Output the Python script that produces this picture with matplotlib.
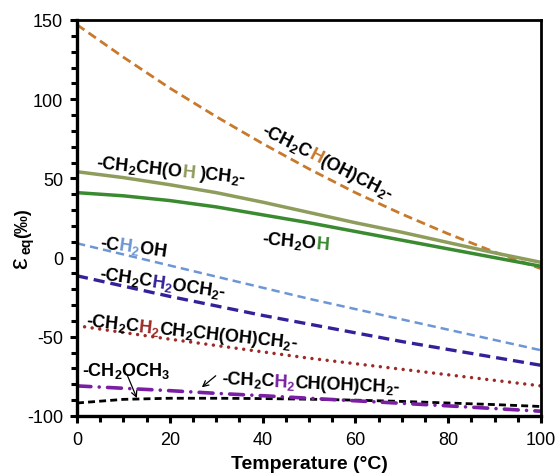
import matplotlib
matplotlib.use("Agg")
import matplotlib.pyplot as plt
import numpy as np
from matplotlib.transforms import IdentityTransform
from matplotlib.ticker import MultipleLocator

plt.rcParams["font.family"] = ["Liberation Sans", "DejaVu Sans"]
plt.rcParams["mathtext.fontset"] = "custom"
plt.rcParams["mathtext.rm"] = "Liberation Sans:bold"
plt.rcParams["mathtext.bf"] = "Liberation Sans:bold"
plt.rcParams["mathtext.it"] = "Liberation Sans:bold"
plt.rcParams["lines.scale_dashes"] = False
plt.rcParams["axes.unicode_minus"] = False

# temperature grid (deg C)
temp = [0, 10, 20, 30, 40, 50, 60, 70, 80, 90, 100]

# equilibrium fractionation (permil)
eps_ch_oh = [147, 126.5, 107, 89, 72, 56, 41, 27.5, 15, 3.5, -7]
eps_oh_glyc = [54.2, 50.5, 46, 41, 35, 28.5, 22, 16, 9.5, 3, -3]
eps_oh_meoh = [41, 39, 36, 32, 27, 22, 16.5, 11, 5.5, 0, -5.5]
eps_ch2oh = [9, 2, -5, -12, -19, -26, -32.5, -39, -45.5, -52, -58.5]
eps_ch2_ether = [-11.5, -18, -24.5, -30.5, -36.5, -42, -47.5, -53, -58, -63, -68]
eps_ch2_long = [-43, -47.3, -51.5, -55.5, -59.5, -63.5, -67, -70.5, -74, -77.5, -81]
eps_ch2_mid = [-81, -82.5, -84, -85.7, -87.2, -88.8, -90.4, -92, -93.6, -95.3, -97]
eps_ch3_ome = [-91.8, -89.5, -88.8, -88.8, -89, -89.4, -90, -90.8, -91.8, -92.8, -94]

ORANGE = "#C8792B"
OLIVE = "#8E9C5C"
GREEN = "#3A8A30"
LBLUE = "#6D96D6"
DBLUE = "#35209A"
RED = "#9C2B27"
PURPLE = "#7A1FA3"


def colored_label(ax, x, y, parts, angle=0, size=13):
    """Bold label built from (text, colour) pieces, centred on (x, y)."""
    r = ax.figure.canvas.get_renderer()

    def width(s):
        t = ax.text(0, 0, s, fontsize=size, fontweight="bold")
        w = t.get_window_extent(r).width
        t.remove()
        return w

    # right edge of each piece inside the whole string, minus its own width
    offsets = []
    for i in range(len(parts)):
        prefix = "".join(s for s, c in parts[:i + 1])
        offsets.append(width(prefix) - width(parts[i][0]))
    total = width("".join(s for s, c in parts))
    a = np.deg2rad(angle)
    dx, dy = np.cos(a), np.sin(a)
    cx, cy = ax.transData.transform((x, y))
    shift = size * 100 / 72 * 0.3
    sx = cx - total / 2 * dx + dy * shift
    sy = cy - total / 2 * dy - dx * shift
    for (s, c), off in zip(parts, offsets):
        ax.text(sx + off * dx, sy + off * dy, s, transform=IdentityTransform(),
                fontsize=size, fontweight="bold", color=c, rotation=angle,
                rotation_mode="anchor", ha="left", va="baseline", zorder=5)


W, H = 556, 477
fig = plt.figure(figsize=(W / 100, H / 100), dpi=100)
ax = fig.add_axes([0.1385, 0.1258, 0.8345, 0.8302])

ax.plot(temp, eps_ch_oh, color=ORANGE, lw=2.0, dashes=(6.5, 3.6))
ax.plot(temp, eps_oh_glyc, color=OLIVE, lw=2.5)
ax.plot(temp, eps_oh_meoh, color=GREEN, lw=2.5)
ax.plot(temp, eps_ch2oh, color=LBLUE, lw=1.8, dashes=(6, 3.6))
ax.plot(temp, eps_ch2_ether, color=DBLUE, lw=2.4, dashes=(8, 4.3))
ax.plot(temp, eps_ch2_long, color=RED, lw=2.5, dashes=(0.01, 5.5),
        dash_capstyle="round")
ax.plot(temp, eps_ch3_ome, color="black", lw=2.0, dashes=(5, 3))
ax.plot(temp, eps_ch2_mid, color=PURPLE, lw=2.6,
        dashes=(10, 6, 0.01, 6), dash_capstyle="round")

ax.set_xlim(0, 100)
ax.set_ylim(-100, 150)
ax.xaxis.set_major_locator(MultipleLocator(20))
ax.xaxis.set_minor_locator(MultipleLocator(5))
ax.yaxis.set_major_locator(MultipleLocator(50))
ax.yaxis.set_minor_locator(MultipleLocator(10))
ax.tick_params(which="major", direction="out", length=5, width=2.2,
               labelsize=13, pad=5)
ax.tick_params(axis="x", which="major", pad=6)
ax.tick_params(which="minor", direction="out", length=4, width=2.2)
for side in ["left", "bottom"]:
    ax.spines[side].set_linewidth(2.4)
for side in ["top", "right"]:
    ax.spines[side].set_linewidth(2.0)

ax.set_xlabel("Temperature (°C)", fontsize=14, fontweight="bold", labelpad=5)

# y label: large epsilon, bold "eq" subscript, bold (permil)
fig.text(20 / W, 1 - 263 / H, "ε", fontsize=19, rotation=90,
         ha="center", va="center", rotation_mode="anchor")
fig.text(27 / W, 1 - 246 / H, "eq", fontsize=10, fontweight="bold",
         rotation=90, ha="center", va="center", rotation_mode="anchor")
fig.text(22.5 / W, 1 - 223 / H, "(‰)", fontsize=13, fontweight="bold",
         rotation=90, ha="center", va="center", rotation_mode="anchor")

fig.canvas.draw()

colored_label(ax, 54.1, 61, [("-CH$_2$C", "black"), ("$\\mathrm{H}$", ORANGE),
                             ("(OH)CH$_2$-", "black")], angle=-27)
colored_label(ax, 20.3, 55.5, [("-CH$_2$CH(O", "black"),
                               ("$\\mathrm{H}$", OLIVE),
                               (" )CH$_2$-", "black")], angle=-6)
colored_label(ax, 47.2, 10.5, [("-CH$_2$O", "black"),
                               ("$\\mathrm{H}$", GREEN)], angle=-5)
colored_label(ax, 12.1, 7.3, [("-$\\mathrm{C}$", "black"), ("H$_2$", LBLUE),
                              ("$\\mathrm{OH}$", "black")], angle=-8)
colored_label(ax, 18.5, -15.4, [("-CH$_2$C", "black"), ("H$_2$", DBLUE),
                                ("OCH$_2$-", "black")], angle=-8)
colored_label(ax, 24.8, -46.3, [("-CH$_2$C", "black"), ("H$_2$", RED),
                                ("CH$_2$CH(OH)CH$_2$-", "black")], angle=-6)
colored_label(ax, 10.6, -70.5, [("-CH$_2$OCH$_3$", "black")], angle=0)
colored_label(ax, 50.4, -78.5, [("-CH$_2$C", "black"), ("H$_2$", PURPLE),
                                ("CH(OH)CH$_2$-", "black")], angle=-2.5)

arrow = dict(arrowstyle="->", color="black", lw=0.9, shrinkA=0, shrinkB=0)
ax.annotate("", xy=(12.9, -88.7), xytext=(10.8, -74), arrowprops=arrow)
ax.annotate("", xy=(26.9, -81.9), xytext=(29.9, -74.6), arrowprops=arrow)

fig.savefig("out.png", dpi=100)
